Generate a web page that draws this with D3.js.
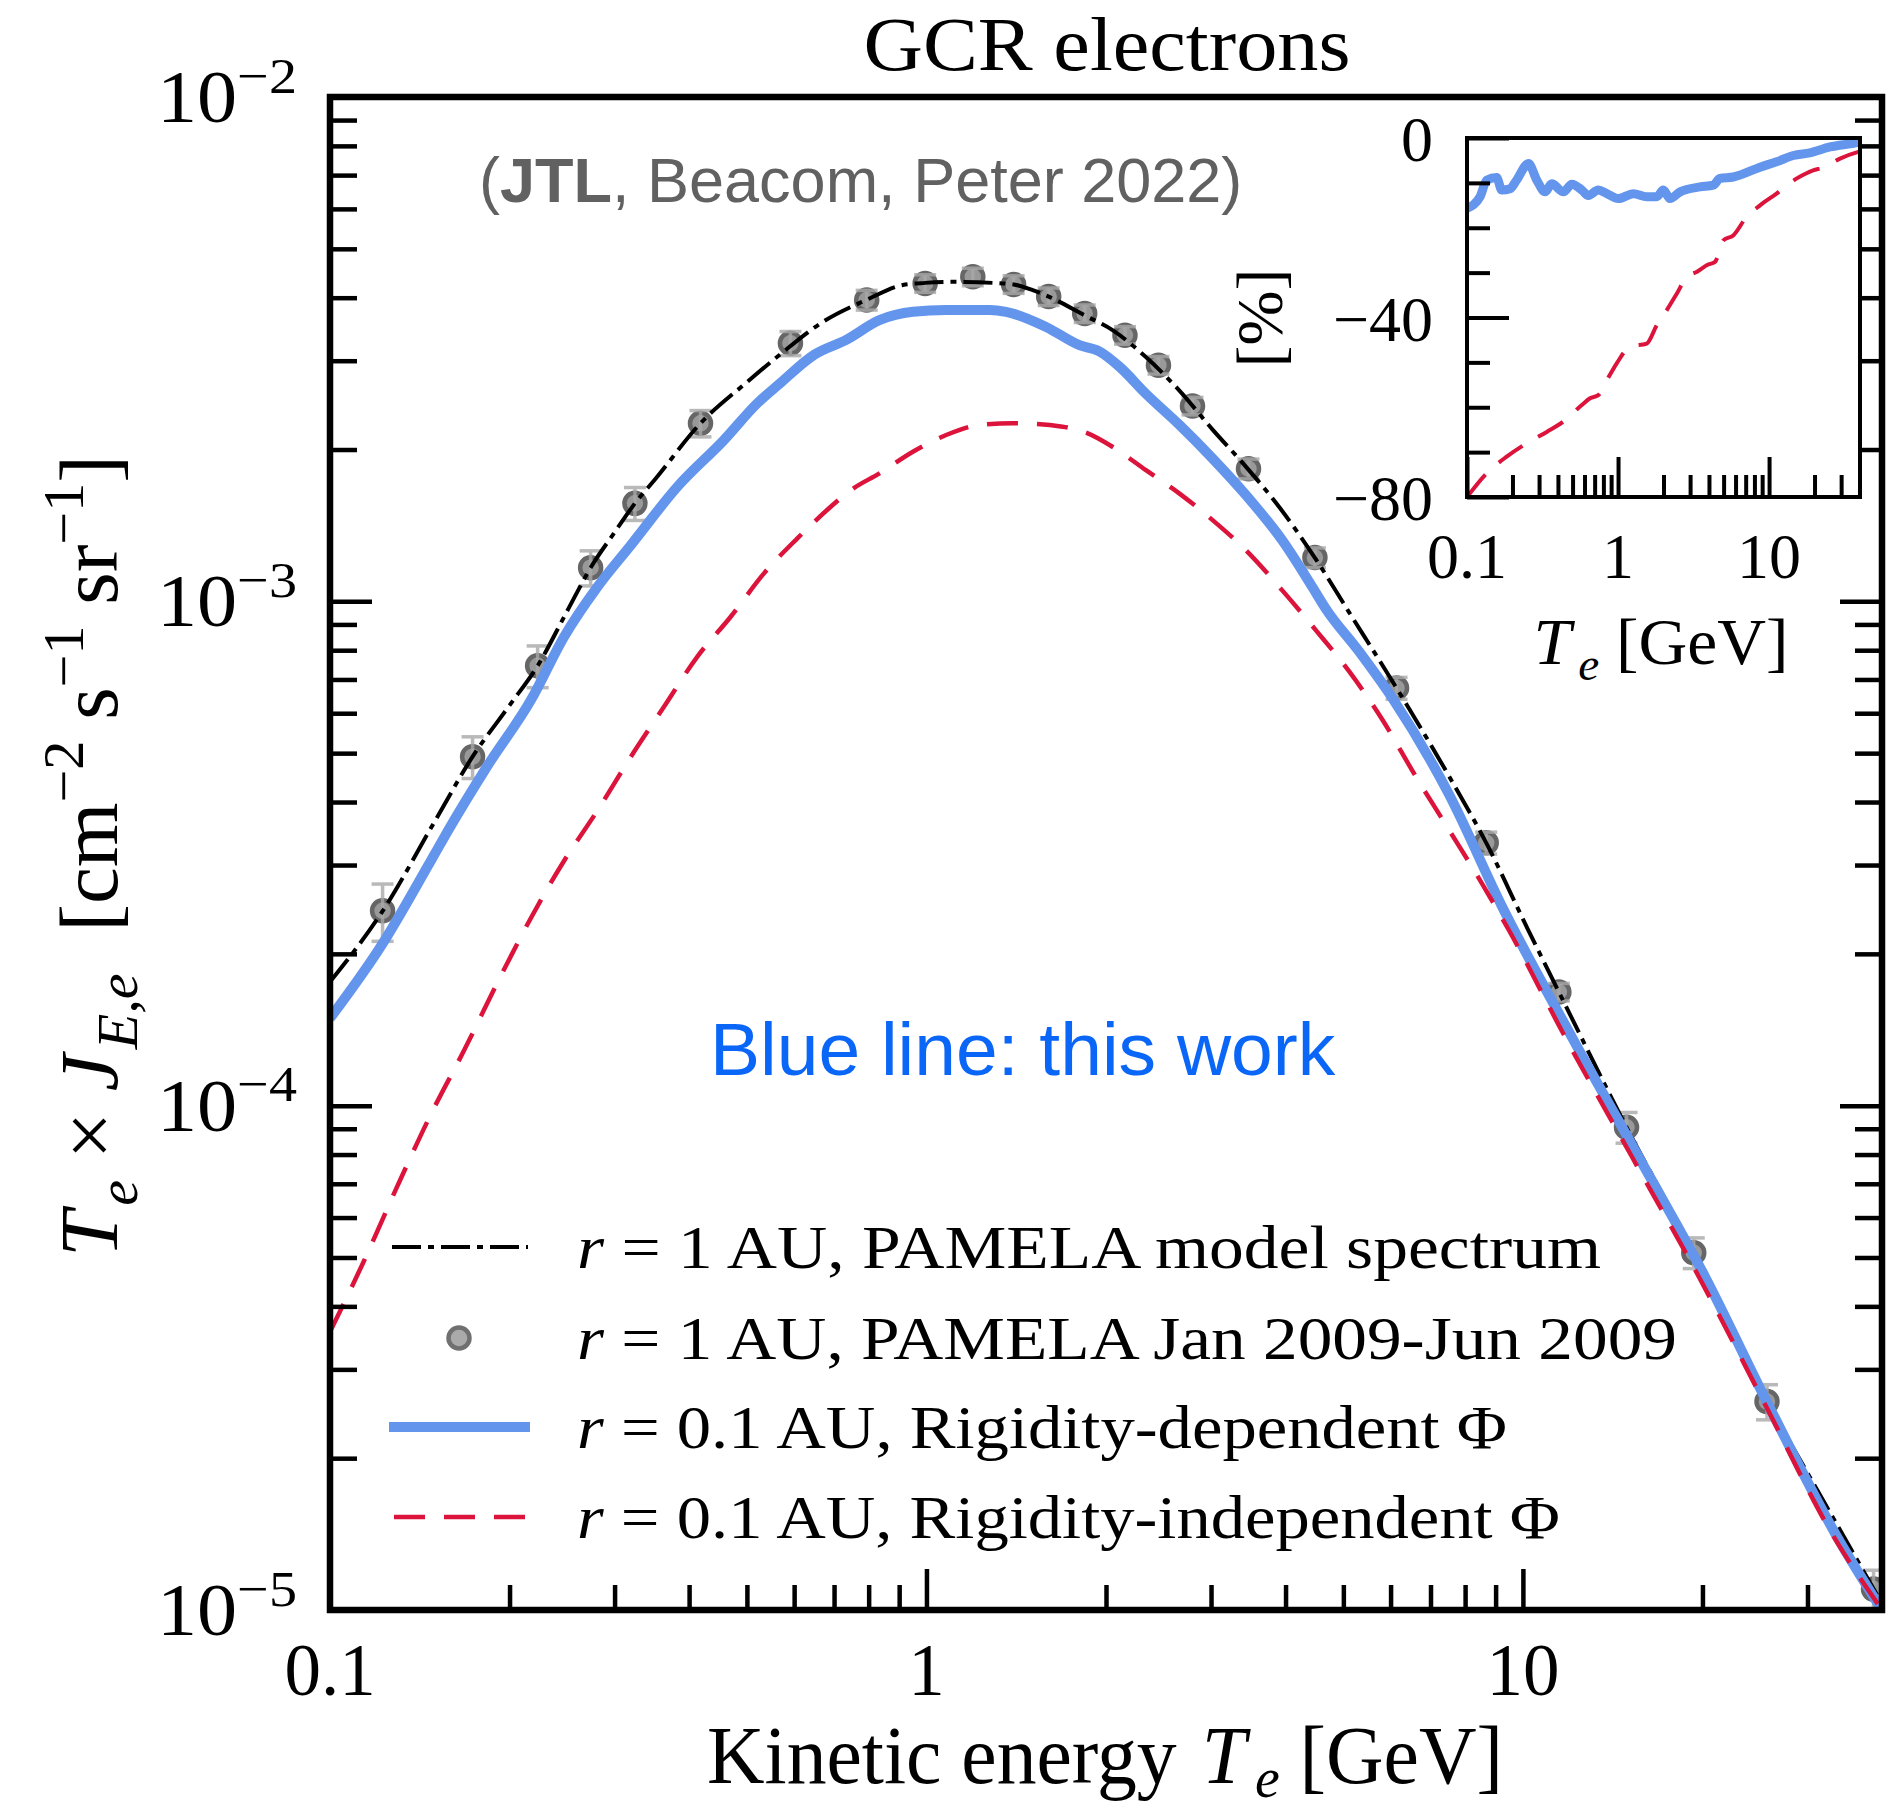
<!DOCTYPE html>
<html>
<head>
<meta charset="utf-8">
<script src="https://cdn.jsdelivr.net/npm/d3@7"></script>
<style>
  body { margin: 0; background: #fff; }
  svg { display: block; }
  text { white-space: pre; }
</style>
</head>
<body>
<script>
// ---- values ----
// PAMELA model spectrum (black dash-dot), T_e [GeV] vs T_e*J [cm^-2 s^-1 sr^-1]
const modelE = [0.1, 0.1225, 0.15, 0.1734, 0.2, 0.2229, 0.25, 0.2735, 0.3, 0.3245, 0.35, 0.418, 0.5, 0.567,
  0.67, 0.793, 0.913, 0.995, 1.107, 1.29, 1.4, 1.507, 1.603, 1.842, 2.051, 2.333, 2.653, 3.018, 3.432, 3.9,
  4.48, 5.11, 6.14, 7.52, 8.68, 10.17, 11.49, 14.92, 19.34, 25.66, 30, 40];
const modelFlux = [1.76e-4, 2.43e-4, 3.67e-4, 4.92e-4, 6.22e-4, 7.45e-4, 9.58e-4, 1.166e-3, 1.37e-3, 1.564e-3,
  1.74e-3, 2.254e-3, 2.72e-3, 3.08e-3, 3.58e-3, 3.96e-3, 4.24e-3, 4.28e-3, 4.30e-3, 4.28e-3, 4.25e-3, 4.14e-3,
  4.02e-3, 3.69e-3, 3.45e-3, 3.05e-3, 2.62e-3, 2.19e-3, 1.85e-3, 1.54e-3, 1.22e-3, 9.52e-4, 6.73e-4, 4.50e-4,
  3.32e-4, 2.25e-4, 1.68e-4, 9.06e-5, 5.11e-5, 2.59e-5, 1.87e-5, 1.03e-5];

// PAMELA Jan 2009 - Jun 2009 points, with relative errors
const pamelaE = [0.1225, 0.1734, 0.2229, 0.2735, 0.3245, 0.418, 0.5915, 0.794, 0.995, 1.196, 1.40, 1.603, 1.842,
  2.152, 2.449, 2.793, 3.467, 4.48, 6.14, 8.68, 11.49, 14.92, 19.34, 25.66, 38.72];
const pamelaFlux = [2.434e-4, 4.92e-4, 7.45e-4, 1.166e-3, 1.564e-3, 2.254e-3, 3.249e-3, 3.958e-3, 4.27e-3, 4.40e-3,
  4.25e-3, 4.02e-3, 3.72e-3, 3.37e-3, 2.94e-3, 2.44e-3, 1.832e-3, 1.221e-3, 6.73e-4, 3.32e-4, 1.68e-4, 9.06e-5,
  5.11e-5, 2.59e-5, 1.10e-5];
const pamelaErr = [0.13, 0.095, 0.095, 0.08, 0.075, 0.06, 0.055, 0.045, 0.04, 0.04, 0.04, 0.04, 0.04, 0.04, 0.04,
  0.04, 0.045, 0.045, 0.05, 0.05, 0.04, 0.07, 0.07, 0.08, 0.09];

// r = 0.1 AU, rigidity-dependent Phi (blue, this work)
const depE = [0.1, 0.1217, 0.1476, 0.1575, 0.1837, 0.2172, 0.2469, 0.2809, 0.3195, 0.3823, 0.4577, 0.5205, 0.567,
  0.6475, 0.7338, 0.834, 0.949, 1.079, 1.275, 1.36, 1.587, 1.805, 1.949, 2.106, 2.333, 2.653, 3.018, 3.432, 3.953,
  4.437, 4.672, 5.31, 6.04, 7.52, 9.23, 12.1, 15.64, 20.2, 25.8, 33.4, 40];
const depFlux = [1.49e-4, 2.07e-4, 3.06e-4, 3.50e-4, 4.72e-4, 6.37e-4, 8.51e-4, 1.069e-3, 1.293e-3, 1.687e-3,
  2.089e-3, 2.47e-3, 2.70e-3, 3.08e-3, 3.30e-3, 3.61e-3, 3.75e-3, 3.78e-3, 3.78e-3, 3.75e-3, 3.50e-3, 3.22e-3,
  3.13e-3, 2.92e-3, 2.58e-3, 2.24e-3, 1.92e-3, 1.625e-3, 1.319e-3, 1.067e-3, 9.67e-4, 7.96e-4, 6.43e-4, 4.14e-4,
  2.48e-4, 1.363e-4, 7.91e-5, 4.58e-5, 2.55e-5, 1.417e-5, 1.0e-5];

// r = 0.1 AU, rigidity-independent Phi (red dashed)
const indepE = [0.1, 0.1141, 0.1298, 0.1476, 0.1679, 0.191, 0.2172, 0.2469, 0.2809, 0.3195, 0.363, 0.413, 0.4697,
  0.534, 0.6075, 0.691, 0.746, 0.834, 0.949, 1.079, 1.227, 1.395, 1.692, 1.852, 2.051, 2.333, 2.653, 3.018, 3.432,
  3.953, 4.495, 5.11, 5.81, 6.61, 7.52, 8.55, 9.47, 11.79, 15.24, 19.72, 25.5, 32.97, 40];
const indepFlux = [3.56e-5, 4.93e-5, 6.94e-5, 9.61e-5, 1.289e-4, 1.757e-4, 2.356e-4, 3.06e-4, 3.85e-4, 4.92e-4,
  6.18e-4, 7.77e-4, 9.32e-4, 1.136e-3, 1.333e-3, 1.540e-3, 1.66e-3, 1.794e-3, 1.98e-3, 2.137e-3, 2.237e-3,
  2.254e-3, 2.22e-3, 2.16e-3, 2.025e-3, 1.82e-3, 1.637e-3, 1.449e-3, 1.263e-3, 1.05e-3, 8.77e-4, 7.27e-4,
  5.83e-4, 4.50e-4, 3.52e-4, 2.75e-4, 2.23e-4, 1.363e-4, 7.91e-5, 4.58e-5, 2.55e-5, 1.417e-5, 1.0e-5];

// inset: difference to the model spectrum [%]
const insetDepE = [0.1, 0.122, 0.135, 0.157, 0.170, 0.193, 0.213, 0.255, 0.290, 0.329, 0.364, 0.435, 0.494, 0.576,
  0.636, 0.740, 0.843, 1.005, 1.264, 1.55, 1.805, 1.995, 2.21, 2.574, 3.49, 4.27, 4.73, 5.79, 8.71, 11.2, 14.5,
  18.6, 25.3, 39.0, 40];
const insetDepPct = [-15.7, -13.1, -9.4, -8.8, -11.6, -11.3, -9.4, -5.7, -9.4, -12.0, -10.2, -12.0, -10.3, -11.6,
  -12.8, -11.6, -12.4, -13.5, -12.4, -13.1, -13.1, -11.6, -13.5, -12.0, -10.9, -10.5, -9.0, -8.7, -6.5, -5.3,
  -3.9, -3.3, -2.0, -0.9, -0.8];
const insetIndepE = [0.1, 0.135, 0.1831, 0.2487, 0.3375, 0.4346, 0.5755, 0.6524, 0.7404, 0.8425, 0.9804, 1.2014,
  1.55, 1.805, 2.0986, 2.4486, 2.857, 3.334, 3.89, 4.387, 4.984, 5.79, 7.09, 8.71, 11.2, 15.27, 19.57, 22.84,
  29.5, 39.0, 40];
const insetIndepPct = [-80, -74.7, -71.0, -68.0, -65.5, -63.2, -59.5, -58.0, -57.3, -54.0, -50.2, -46.5, -45.8,
  -41.7, -38.4, -34.7, -30.9, -29.8, -28.3, -27.6, -22.8, -21.7, -17.6, -15.0, -12.4, -9.0, -7.2, -6.6, -4.6,
  -3.1, -3.0];

// ticks and labels
const xMajor = [0.1, 1, 10];
const xMinor = [0.2, 0.3, 0.4, 0.5, 0.6, 0.7, 0.8, 0.9, 2, 3, 4, 5, 6, 7, 8, 9, 20, 30];
const yMajor = [1e-2, 1e-3, 1e-4, 1e-5];
const yMajorExp = ['\u22122', '\u22123', '\u22124', '\u22125'];
const yMinorMant = [2, 3, 4, 5, 6, 7, 8, 9];
const xTickLabels = ['0.1', '1', '10'];
const insetYMajor = [0, -40, -80];
const insetYMinor = [-10, -20, -30, -50, -60, -70];
const insetYLabels = ['0', '\u221240', '\u221280'];
const legendLabels = [
  ' = 1\u2009AU, PAMELA model spectrum',
  ' = 1\u2009AU, PAMELA Jan 2009-Jun 2009',
  ' = 0.1\u2009AU, Rigidity-dependent \u03A6',
  ' = 0.1\u2009AU, Rigidity-independent \u03A6'
];

// ---- layout ----
const W = 1886, H = 1812;
const serif = "'Liberation Serif', 'Times New Roman', serif";
const sans = "'Liberation Sans', Arial, sans-serif";
const plot = { left: 330, right: 1882, top: 97, bottom: 1610 };
const ins = { left: 1467, right: 1860, top: 138, bottom: 497 };
const blue = '#6495ED', red = '#DC143C';

const svg = d3.select('body').append('svg').attr('width', W).attr('height', H);
svg.append('rect').attr('width', W).attr('height', H).attr('fill', '#fff');
const defs = svg.append('defs');

const x = d3.scaleLog().domain([0.1, 40]).range([plot.left, plot.right]);
const y = d3.scaleLog().domain([1e-5, 1e-2]).range([plot.bottom, plot.top]);
const xi = d3.scaleLog().domain([0.1, 40]).range([ins.left, ins.right]);
const yi = d3.scaleLinear().domain([-80, 0]).range([ins.bottom, ins.top]);

// text with sub / superscripts
let richText = (sel, parts, size, subShift = 0.24, supShift = 0.42) => {
  let shift = 0;
  parts.forEach(p => {
    let target = p.sub ? size * subShift : p.sup ? -size * supShift : 0;
    sel.append('tspan')
      .attr('dy', target - shift)
      .attr('dx', p.dx || null)
      .attr('font-size', (p.sub || p.sup) ? size * 0.7 : size)
      .attr('font-style', p.it ? 'italic' : null)
      .attr('font-weight', p.b ? 'bold' : null)
      .text(p.t);
    shift = target;
  });
};

// tick marks through d3 axes, pointing inward
let drawTicks = (axisFn, scale, values, size, tx, ty, width) => {
  let g = svg.append('g').attr('transform', 'translate(' + tx + ',' + ty + ')')
    .call(axisFn(scale).tickValues(values).tickSize(size).tickSizeOuter(0).tickFormat(''));
  g.select('.domain').remove();
  g.selectAll('.tick text').remove();
  g.selectAll('.tick line').attr('stroke', '#000').attr('stroke-width', width);
};

// ---- main panel ----
defs.append('clipPath').attr('id', 'clipMain').append('rect')
  .attr('x', plot.left).attr('y', plot.top)
  .attr('width', plot.right - plot.left).attr('height', plot.bottom - plot.top);

const main = svg.append('g').attr('clip-path', 'url(#clipMain)');
const line = d3.line().x(d => x(d[0])).y(d => y(d[1])).curve(d3.curveMonotoneX);

let pamela = pamelaE.map((e, i) => ({ e: e, f: pamelaFlux[i], err: pamelaErr[i] }));

main.selectAll('circle.pt').data(pamela).enter().append('circle')
  .attr('class', 'pt')
  .attr('cx', d => x(d.e)).attr('cy', d => y(d.f)).attr('r', 10.5)
  .attr('fill', '#999').attr('stroke', '#666').attr('stroke-width', 4.5);

let bars = main.append('g').attr('stroke', '#a8a8a8').attr('stroke-width', 3.5).attr('opacity', 0.8);
pamela.forEach(d => {
  let y0 = y(d.f * (1 - d.err)), y1 = y(d.f * (1 + d.err)), cx = x(d.e);
  bars.append('line').attr('x1', cx).attr('x2', cx).attr('y1', y0).attr('y2', y1);
  bars.append('line').attr('x1', cx - 11).attr('x2', cx + 11).attr('y1', y0).attr('y2', y0);
  bars.append('line').attr('x1', cx - 11).attr('x2', cx + 11).attr('y1', y1).attr('y2', y1);
});

main.append('path').datum(d3.zip(modelE, modelFlux)).attr('d', line)
  .attr('fill', 'none').attr('stroke', '#000').attr('stroke-width', 4)
  .attr('stroke-dasharray', '29,7,6,7');
main.append('path').datum(d3.zip(depE, depFlux)).attr('d', line)
  .attr('fill', 'none').attr('stroke', blue).attr('stroke-width', 10).attr('stroke-linejoin', 'round');
main.append('path').datum(d3.zip(indepE, indepFlux)).attr('d', line)
  .attr('fill', 'none').attr('stroke', red).attr('stroke-width', 4.5)
  .attr('stroke-dasharray', '31,19');

// ticks
let yMinor = [];
yMajor.slice(1).forEach(v => yMinorMant.forEach(m => yMinor.push(m * v)));
drawTicks(d3.axisBottom, x, xMinor, -25, 0, plot.bottom, 4.5);
drawTicks(d3.axisBottom, x, xMajor, -41, 0, plot.bottom, 4.5);
drawTicks(d3.axisLeft, y, yMinor, -27, plot.left, 0, 4.5);
drawTicks(d3.axisLeft, y, yMajor, -42, plot.left, 0, 4.5);
drawTicks(d3.axisRight, y, yMinor, -27, plot.right, 0, 4.5);
drawTicks(d3.axisRight, y, yMajor, -42, plot.right, 0, 4.5);

svg.append('rect')
  .attr('x', plot.left).attr('y', plot.top)
  .attr('width', plot.right - plot.left).attr('height', plot.bottom - plot.top)
  .attr('fill', 'none').attr('stroke', '#000').attr('stroke-width', 6.5);

// tick labels
xMajor.forEach((v, i) => {
  svg.append('text').attr('x', x(v)).attr('y', 1695)
    .attr('text-anchor', 'middle').attr('font-family', serif).attr('font-size', 73)
    .text(xTickLabels[i]);
});
yMajor.forEach((v, i) => {
  let t = svg.append('text').attr('x', 297).attr('y', y(v) + 25)
    .attr('text-anchor', 'end').attr('font-family', serif)
    .attr('textLength', 140).attr('lengthAdjust', 'spacingAndGlyphs');
  richText(t, [{ t: '10' }, { t: yMajorExp[i], sup: true }], 73, 0.24, 0.4);
});

// axis titles
let xl = svg.append('text').attr('x', 1105).attr('y', 1783)
  .attr('text-anchor', 'middle').attr('font-family', serif)
  .attr('textLength', 796).attr('lengthAdjust', 'spacingAndGlyphs');
richText(xl, [{ t: 'Kinetic energy' }, { t: 'T', it: true, dx: 26 }, { t: 'e', it: true, sub: true, dx: 9 }, { t: ' [GeV]' }], 82, 0.17);

let yl = svg.append('text').attr('transform', 'translate(117,856) rotate(-90)')
  .attr('text-anchor', 'middle').attr('font-family', serif)
  .attr('textLength', 802).attr('lengthAdjust', 'spacingAndGlyphs');
richText(yl, [
  { t: 'T', it: true }, { t: 'e', it: true, sub: true, dx: 5 }, { t: ' \u00D7 ' },
  { t: 'J', it: true }, { t: 'E,e', it: true, sub: true, dx: 5 }, { t: '  [cm' }, { t: '\u22122', sup: true },
  { t: ' s' }, { t: '\u22121', sup: true }, { t: ' sr' }, { t: '\u22121', sup: true }, { t: ']' }
], 82);

svg.append('text').attr('x', 1107).attr('y', 70)
  .attr('text-anchor', 'middle').attr('font-family', serif).attr('font-size', 76)
  .attr('textLength', 487).attr('lengthAdjust', 'spacingAndGlyphs')
  .text('GCR electrons');

let cite = svg.append('text').attr('x', 479).attr('y', 202)
  .attr('font-family', sans).attr('fill', '#616161');
richText(cite, [{ t: '(' }, { t: 'JTL', b: true }, { t: ', Beacom, Peter 2022)' }], 63);

svg.append('text').attr('x', 710).attr('y', 1075)
  .attr('font-family', sans).attr('font-size', 75).attr('fill', '#0a66f7')
  .text('Blue line: this work');

// ---- legend ----
const legendY = [1247, 1338, 1427, 1517];
const legendW = [1024, 1100, 930, 983];
const leg = svg.append('g');
leg.append('line').attr('x1', 392).attr('x2', 528).attr('y1', legendY[0]).attr('y2', legendY[0])
  .attr('stroke', '#000').attr('stroke-width', 4).attr('stroke-dasharray', '29,7,6,7');
leg.append('circle').attr('cx', 459).attr('cy', legendY[1]).attr('r', 10.5)
  .attr('fill', '#aaa').attr('stroke', '#707070').attr('stroke-width', 4.5);
leg.append('line').attr('x1', 389).attr('x2', 530).attr('y1', legendY[2]).attr('y2', legendY[2])
  .attr('stroke', blue).attr('stroke-width', 10);
leg.append('line').attr('x1', 394).attr('x2', 528).attr('y1', legendY[3]).attr('y2', legendY[3])
  .attr('stroke', red).attr('stroke-width', 4.5).attr('stroke-dasharray', '31,19');
legendLabels.forEach((lab, i) => {
  let t = leg.append('text').attr('x', 577).attr('y', legendY[i] + 21)
    .attr('font-family', serif)
    .attr('textLength', legendW[i]).attr('lengthAdjust', 'spacingAndGlyphs');
  richText(t, [{ t: 'r', it: true }, { t: lab }], 62);
});

// ---- inset ----
svg.append('rect').attr('x', ins.left).attr('y', ins.top)
  .attr('width', ins.right - ins.left).attr('height', ins.bottom - ins.top).attr('fill', '#fff');
defs.append('clipPath').attr('id', 'clipInset').append('rect')
  .attr('x', ins.left).attr('y', ins.top)
  .attr('width', ins.right - ins.left).attr('height', ins.bottom - ins.top);
const inset = svg.append('g').attr('clip-path', 'url(#clipInset)');
const lineI = d3.line().x(d => xi(d[0])).y(d => yi(d[1])).curve(d3.curveMonotoneX);
inset.append('path').datum(d3.zip(insetDepE, insetDepPct)).attr('d', lineI)
  .attr('fill', 'none').attr('stroke', blue).attr('stroke-width', 9).attr('stroke-linejoin', 'round');
inset.append('path').datum(d3.zip(insetIndepE, insetIndepPct)).attr('d', lineI)
  .attr('fill', 'none').attr('stroke', red).attr('stroke-width', 4)
  .attr('stroke-dasharray', '29,18');

drawTicks(d3.axisBottom, xi, xMinor, -22, 0, ins.bottom, 4);
drawTicks(d3.axisBottom, xi, xMajor, -40, 0, ins.bottom, 4);
drawTicks(d3.axisLeft, yi, insetYMinor, -23, ins.left, 0, 4);
drawTicks(d3.axisLeft, yi, insetYMajor, -42, ins.left, 0, 4);
svg.append('rect').attr('x', ins.left).attr('y', ins.top)
  .attr('width', ins.right - ins.left).attr('height', ins.bottom - ins.top)
  .attr('fill', 'none').attr('stroke', '#000').attr('stroke-width', 4);

xMajor.forEach((v, i) => {
  svg.append('text').attr('x', xi(v)).attr('y', 578)
    .attr('text-anchor', 'middle').attr('font-family', serif).attr('font-size', 64)
    .text(xTickLabels[i]);
});
insetYMajor.forEach((v, i) => {
  svg.append('text').attr('x', 1433).attr('y', yi(v) + 23)
    .attr('text-anchor', 'end').attr('font-family', serif).attr('font-size', 64)
    .text(insetYLabels[i]);
});
let il = svg.append('text').attr('x', 1661).attr('y', 664)
  .attr('text-anchor', 'middle').attr('font-family', serif)
  .attr('textLength', 255).attr('lengthAdjust', 'spacingAndGlyphs');
richText(il, [{ t: 'T', it: true }, { t: 'e', it: true, sub: true, dx: 7 }, { t: ' [GeV]' }], 66);
svg.append('text').attr('transform', 'translate(1282,318) rotate(-90)')
  .attr('text-anchor', 'middle').attr('font-family', serif).attr('font-size', 66)
  .text('[%]');
</script>
</body>
</html>
